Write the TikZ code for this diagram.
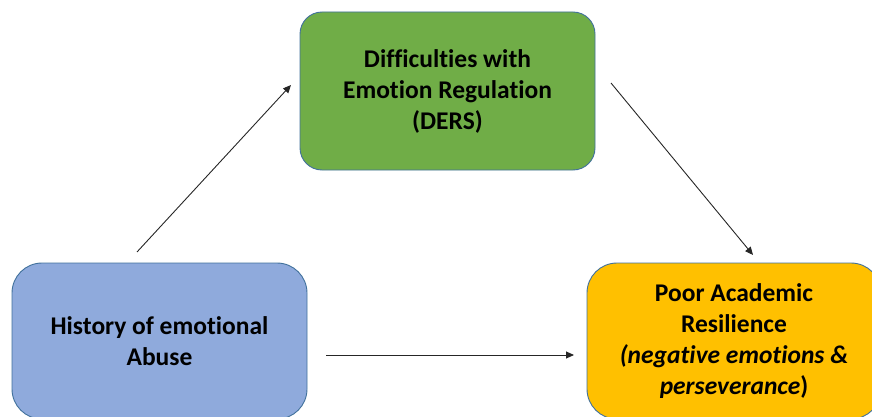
\documentclass[tikz,border=0pt]{standalone}
\usepackage{fontspec}
\setmainfont[Ligatures=NoCommon]{Carlito}
\usetikzlibrary{arrows.meta}
\definecolor{boxgreen}{HTML}{70AD47}
\definecolor{boxblue}{HTML}{8FAADC}
\definecolor{boxyellow}{HTML}{FFC000}
\definecolor{boxline}{HTML}{41719C}
\definecolor{arrowgray}{HTML}{262626}
\tikzset{
  box/.style={draw=boxline, line width=0.9pt, rounded corners=22pt, align=center,
    font=\fontsize{25.5}{31}\selectfont\bfseries, inner sep=0pt},
  conn/.style={draw=arrowgray, line width=0.9pt, -{Triangle[length=8pt,width=7pt]}}
}
\begin{document}
\begin{tikzpicture}[x=1pt,y=-1pt]
\useasboundingbox (0,0) rectangle (872,417);
\clip (0,0) rectangle (872,417);
\node[box, fill=boxgreen, minimum width=295pt, minimum height=158pt] (ders) at (447.5,91)
  {Difficulties with\\Emotion Regulation\\(DERS)};
\node[box, fill=boxblue, minimum width=295pt, minimum height=156pt, rounded corners=30pt] (hist) at (159.5,341)
  {History of emotional\\Abuse};
\node[box, fill=boxyellow, minimum width=294pt, minimum height=156pt, rounded corners=30pt] (res) at (734,341)
  {Poor Academic\\Resilience\\\textit{(negative emotions \&}\\\textit{perseverance})};
\coordinate (a1s) at (137,252);
\coordinate (a1e) at (291,85);
\coordinate (a2s) at (611,83);
\coordinate (a2e) at (753,255);
\coordinate (a3s) at (326,355);
\coordinate (a3e) at (574,355);
\draw[conn] (a1s) -- (a1e);
\draw[conn] (a2s) -- (a2e);
\draw[conn] (a3s) -- (a3e);
\end{tikzpicture}
\end{document}
